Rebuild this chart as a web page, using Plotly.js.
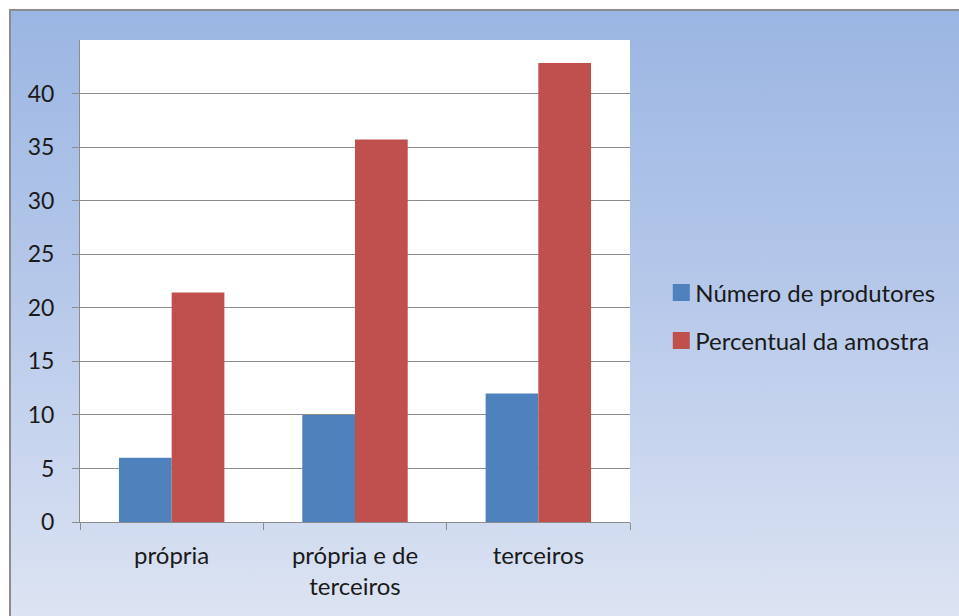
<!DOCTYPE html>
<html>
<head>
<meta charset="utf-8">
<script src="https://cdn.plot.ly/plotly-3.0.1.min.js"></script>
<style>
  html, body { margin: 0; padding: 0; background: #ffffff; }
  #wrap { position: relative; width: 959px; height: 616px; overflow: hidden; }
  #frame {
    position: absolute; left: 9px; top: 9px; width: 960px; height: 620px;
    border-left: 2px solid #8c8c8c; border-top: 2px solid #8c8c8c;
    background: linear-gradient(to bottom, #9bb6e3 0%, #b6c8ea 45%, #dee5f3 100%);
  }
  #chart { position: absolute; left: 0; top: 0; width: 959px; height: 616px; }
</style>
</head>
<body>
<div id="wrap">
  <div id="frame"></div>
  <div id="chart"></div>
</div>
<script>
// Categories and series
const categories = ["própria", "própria e de<br>terceiros", "terceiros"];
const produtores = [6, 10, 12];
const percentual = [21.43, 35.71, 42.86];
const seriesNames = ["Número de produtores", "Percentual da amostra"];
const yTicks = [0, 5, 10, 15, 20, 25, 30, 35, 40];

const FONT = "Lato, 'Open Sans', 'Noto Sans', sans-serif";

const traces = [
  {
    type: "bar", x: categories, y: produtores, name: seriesNames[0],
    marker: { color: "#4f81bd" }, legend: "legend", hoverinfo: "none"
  },
  {
    type: "bar", x: categories, y: percentual, name: seriesNames[1],
    marker: { color: "#c0504d" }, legend: "legend2", hoverinfo: "none"
  }
];

const legendCommon = {
  bgcolor: "rgba(0,0,0,0)",
  font: { family: FONT, size: 24, color: "#1a1a1a" },
  xanchor: "left", yanchor: "middle", itemwidth: 30
};

const layout = {
  width: 959, height: 616,
  paper_bgcolor: "rgba(0,0,0,0)",
  plot_bgcolor: "#ffffff",
  margin: { l: 80, r: 329, t: 40, b: 94 },
  barmode: "group",
  bargap: 0.425,
  bargroupgap: 0,
  font: { family: FONT, color: "#1a1a1a" },
  xaxis: {
    type: "category",
    tickson: "boundaries",
    ticks: "outside", ticklen: 7, tickcolor: "#8c8c8c",
    ticklabelstandoff: 12,
    showline: true, linecolor: "#8c8c8c", linewidth: 1,
    showgrid: false,
    tickfont: { family: FONT, size: 24, color: "#1a1a1a" }
  },
  yaxis: {
    range: [0, 45],
    tickvals: yTicks,
    ticks: "outside", ticklen: 7, tickcolor: "#8c8c8c",
    ticklabelstandoff: 13,
    showline: true, linecolor: "#8c8c8c", linewidth: 1,
    showgrid: true, gridcolor: "#8c8c8c", gridwidth: 1,
    zeroline: false,
    tickfont: { family: FONT, size: 23, color: "#1a1a1a" }
  },
  legend: Object.assign({}, legendCommon, { x: 1.046, y: (616 - 94 - 293) / 482 }),
  legend2: Object.assign({}, legendCommon, { x: 1.046, y: (616 - 94 - 341) / 482 }),
  showlegend: true
};

Plotly.newPlot("chart", traces, layout, { displayModeBar: false, staticPlot: true }).then(function (gd) {
  // Larger square swatches sitting close to the legend text
  gd.querySelectorAll(".legendpoints path").forEach(function (p) {
    p.setAttribute("d", "M14.5,8.5H-2.5V-8.5H14.5Z");
  });
});
</script>
</body>
</html>
